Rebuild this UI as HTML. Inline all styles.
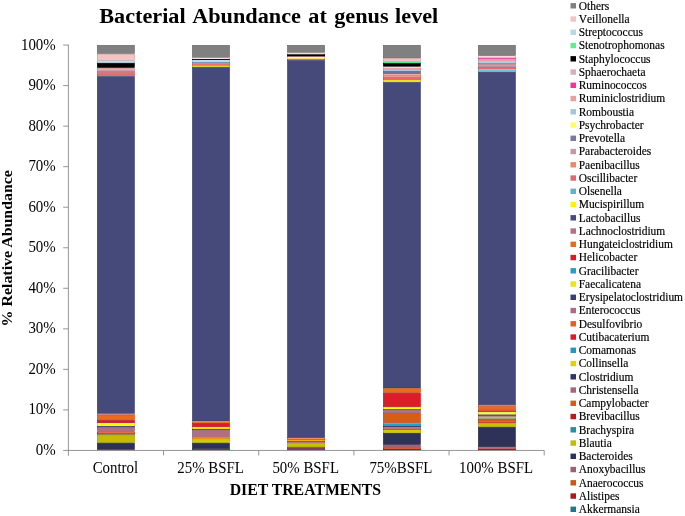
<!DOCTYPE html>
<html><head><meta charset="utf-8"><title>Bacterial Abundance at genus level</title>
<style>
html,body{margin:0;padding:0;background:#fff;}
body{width:685px;height:516px;overflow:hidden;}
svg{display:block;}
text{font-family:"Liberation Serif","Times New Roman",serif;fill:#000;}
.b{font-weight:bold;}
</style></head><body>
<svg width="685" height="516" viewBox="0 0 685 516">
<rect x="0" y="0" width="685" height="516" fill="#ffffff"/>
<rect x="97.30" y="45.30" width="37.10" height="8.20" fill="#808080" stroke="#636363" stroke-width="0.6"/>
<rect x="97.30" y="54.10" width="37.10" height="6.50" fill="#f2c4c4" stroke="#bc9898" stroke-width="0.6"/>
<rect x="97.00" y="60.90" width="37.7" height="2.00" fill="#c0dce8"/>
<rect x="97.00" y="60.90" width="0.6" height="2.00" fill="#95abb4"/>
<rect x="134.10" y="60.90" width="0.6" height="2.00" fill="#95abb4"/>
<rect x="97.30" y="63.20" width="37.10" height="4.40" fill="#000000" stroke="#000000" stroke-width="0.6"/>
<rect x="97.30" y="68.20" width="37.10" height="2.40" fill="#f0a8a8" stroke="#bb8383" stroke-width="0.6"/>
<rect x="97.00" y="70.90" width="37.7" height="1.30" fill="#7c9cc0"/>
<rect x="97.00" y="70.90" width="0.6" height="1.30" fill="#607995"/>
<rect x="134.10" y="70.90" width="0.6" height="1.30" fill="#607995"/>
<rect x="97.30" y="72.50" width="37.10" height="2.50" fill="#f07070" stroke="#bb5757" stroke-width="0.6"/>
<rect x="97.00" y="75.30" width="37.7" height="1.10" fill="#4a80b8"/>
<rect x="97.00" y="75.30" width="0.6" height="1.10" fill="#39638f"/>
<rect x="134.10" y="75.30" width="0.6" height="1.10" fill="#39638f"/>
<rect x="97.30" y="76.70" width="37.10" height="336.80" fill="#464a7a" stroke="#36395f" stroke-width="0.6"/>
<rect x="97.00" y="413.80" width="37.7" height="1.00" fill="#c07890"/>
<rect x="97.00" y="413.80" width="0.6" height="1.00" fill="#955d70"/>
<rect x="134.10" y="413.80" width="0.6" height="1.00" fill="#955d70"/>
<rect x="97.30" y="415.10" width="37.10" height="4.60" fill="#ec6a1c" stroke="#b85215" stroke-width="0.6"/>
<rect x="97.30" y="420.30" width="37.10" height="2.60" fill="#dc1c28" stroke="#ab151f" stroke-width="0.6"/>
<rect x="97.00" y="423.20" width="37.7" height="2.90" fill="#ffff00"/>
<rect x="97.00" y="423.20" width="0.6" height="2.90" fill="#c6c600"/>
<rect x="134.10" y="423.20" width="0.6" height="2.90" fill="#c6c600"/>
<rect x="97.00" y="426.10" width="37.7" height="1.00" fill="#3a3e68"/>
<rect x="97.00" y="426.10" width="0.6" height="1.00" fill="#2d3051"/>
<rect x="134.10" y="426.10" width="0.6" height="1.00" fill="#2d3051"/>
<rect x="97.00" y="427.10" width="37.7" height="0.90" fill="#80648a"/>
<rect x="97.00" y="427.10" width="0.6" height="0.90" fill="#634e6b"/>
<rect x="134.10" y="427.10" width="0.6" height="0.90" fill="#634e6b"/>
<rect x="97.30" y="428.30" width="37.10" height="3.40" fill="#b07080" stroke="#895763" stroke-width="0.6"/>
<rect x="97.00" y="432.00" width="37.7" height="0.80" fill="#e86030"/>
<rect x="97.00" y="432.00" width="0.6" height="0.80" fill="#b44a25"/>
<rect x="134.10" y="432.00" width="0.6" height="0.80" fill="#b44a25"/>
<rect x="97.00" y="432.80" width="37.7" height="0.90" fill="#d02028"/>
<rect x="97.00" y="432.80" width="0.6" height="0.90" fill="#a2181f"/>
<rect x="134.10" y="432.80" width="0.6" height="0.90" fill="#a2181f"/>
<rect x="97.00" y="433.70" width="37.7" height="0.90" fill="#303060"/>
<rect x="97.00" y="433.70" width="0.6" height="0.90" fill="#25254a"/>
<rect x="134.10" y="433.70" width="0.6" height="0.90" fill="#25254a"/>
<rect x="97.30" y="434.90" width="37.10" height="7.70" fill="#c4bc00" stroke="#989200" stroke-width="0.6"/>
<rect x="97.30" y="443.20" width="37.10" height="6.30" fill="#2c3058" stroke="#222544" stroke-width="0.6"/>
<rect x="97.00" y="449.80" width="37.7" height="0.50" fill="#902030"/>
<rect x="97.00" y="449.80" width="0.6" height="0.50" fill="#701825"/>
<rect x="134.10" y="449.80" width="0.6" height="0.50" fill="#701825"/>
<rect x="192.40" y="45.30" width="37.10" height="12.20" fill="#808080" stroke="#636363" stroke-width="0.6"/>
<rect x="192.10" y="57.80" width="37.7" height="1.20" fill="#f8e4e4"/>
<rect x="192.10" y="57.80" width="0.6" height="1.20" fill="#c1b1b1"/>
<rect x="229.20" y="57.80" width="0.6" height="1.20" fill="#c1b1b1"/>
<rect x="192.10" y="59.00" width="37.7" height="1.00" fill="#201010"/>
<rect x="192.10" y="59.00" width="0.6" height="1.00" fill="#180c0c"/>
<rect x="229.20" y="59.00" width="0.6" height="1.00" fill="#180c0c"/>
<rect x="192.10" y="60.00" width="37.7" height="2.10" fill="#b8dcec"/>
<rect x="192.10" y="60.00" width="0.6" height="2.10" fill="#8fabb8"/>
<rect x="229.20" y="60.00" width="0.6" height="2.10" fill="#8fabb8"/>
<rect x="192.10" y="62.10" width="37.7" height="1.00" fill="#6890b8"/>
<rect x="192.10" y="62.10" width="0.6" height="1.00" fill="#51708f"/>
<rect x="229.20" y="62.10" width="0.6" height="1.00" fill="#51708f"/>
<rect x="192.10" y="63.10" width="37.7" height="2.10" fill="#f07070"/>
<rect x="192.10" y="63.10" width="0.6" height="2.10" fill="#bb5757"/>
<rect x="229.20" y="63.10" width="0.6" height="2.10" fill="#bb5757"/>
<rect x="192.10" y="65.20" width="37.7" height="0.80" fill="#b08098"/>
<rect x="192.10" y="65.20" width="0.6" height="0.80" fill="#896376"/>
<rect x="229.20" y="65.20" width="0.6" height="0.80" fill="#896376"/>
<rect x="192.10" y="66.00" width="37.7" height="1.10" fill="#d8d830"/>
<rect x="192.10" y="66.00" width="0.6" height="1.10" fill="#a8a825"/>
<rect x="229.20" y="66.00" width="0.6" height="1.10" fill="#a8a825"/>
<rect x="192.40" y="67.40" width="37.10" height="353.60" fill="#464a7a" stroke="#36395f" stroke-width="0.6"/>
<rect x="192.10" y="421.30" width="37.7" height="1.60" fill="#f07020"/>
<rect x="192.10" y="421.30" width="0.6" height="1.60" fill="#bb5718"/>
<rect x="229.20" y="421.30" width="0.6" height="1.60" fill="#bb5718"/>
<rect x="192.40" y="423.20" width="37.10" height="3.60" fill="#dc1c28" stroke="#ab151f" stroke-width="0.6"/>
<rect x="192.10" y="427.10" width="37.7" height="2.00" fill="#f0e000"/>
<rect x="192.10" y="427.10" width="0.6" height="2.00" fill="#bbae00"/>
<rect x="229.20" y="427.10" width="0.6" height="2.00" fill="#bbae00"/>
<rect x="192.10" y="429.10" width="37.7" height="0.90" fill="#3a3e68"/>
<rect x="192.10" y="429.10" width="0.6" height="0.90" fill="#2d3051"/>
<rect x="229.20" y="429.10" width="0.6" height="0.90" fill="#2d3051"/>
<rect x="192.40" y="430.30" width="37.10" height="7.00" fill="#b07080" stroke="#895763" stroke-width="0.6"/>
<rect x="192.10" y="437.60" width="37.7" height="1.90" fill="#f09010"/>
<rect x="192.10" y="437.60" width="0.6" height="1.90" fill="#bb700c"/>
<rect x="229.20" y="437.60" width="0.6" height="1.90" fill="#bb700c"/>
<rect x="192.40" y="439.80" width="37.10" height="2.80" fill="#d4d000" stroke="#a5a200" stroke-width="0.6"/>
<rect x="192.40" y="443.20" width="37.10" height="5.50" fill="#2c3058" stroke="#222544" stroke-width="0.6"/>
<rect x="192.10" y="449.00" width="37.7" height="1.30" fill="#b02028"/>
<rect x="192.10" y="449.00" width="0.6" height="1.30" fill="#89181f"/>
<rect x="229.20" y="449.00" width="0.6" height="1.30" fill="#89181f"/>
<rect x="287.50" y="45.30" width="37.10" height="7.20" fill="#808080" stroke="#636363" stroke-width="0.6"/>
<rect x="287.20" y="52.80" width="37.7" height="1.50" fill="#f4dcdc"/>
<rect x="287.20" y="52.80" width="0.6" height="1.50" fill="#beabab"/>
<rect x="324.30" y="52.80" width="0.6" height="1.50" fill="#beabab"/>
<rect x="287.20" y="54.30" width="37.7" height="2.00" fill="#000000"/>
<rect x="287.20" y="54.30" width="0.6" height="2.00" fill="#000000"/>
<rect x="324.30" y="54.30" width="0.6" height="2.00" fill="#000000"/>
<rect x="287.20" y="56.30" width="37.7" height="0.60" fill="#702030"/>
<rect x="287.20" y="56.30" width="0.6" height="0.60" fill="#571825"/>
<rect x="324.30" y="56.30" width="0.6" height="0.60" fill="#571825"/>
<rect x="287.20" y="56.90" width="37.7" height="0.80" fill="#f8f0e8"/>
<rect x="287.20" y="56.90" width="0.6" height="0.80" fill="#c1bbb4"/>
<rect x="324.30" y="56.90" width="0.6" height="0.80" fill="#c1bbb4"/>
<rect x="287.20" y="57.70" width="37.7" height="0.60" fill="#e8f0b0"/>
<rect x="287.20" y="57.70" width="0.6" height="0.60" fill="#b4bb89"/>
<rect x="324.30" y="57.70" width="0.6" height="0.60" fill="#b4bb89"/>
<rect x="287.20" y="58.30" width="37.7" height="0.90" fill="#f8d040"/>
<rect x="287.20" y="58.30" width="0.6" height="0.90" fill="#c1a231"/>
<rect x="324.30" y="58.30" width="0.6" height="0.90" fill="#c1a231"/>
<rect x="287.20" y="59.20" width="37.7" height="1.00" fill="#4a78b0"/>
<rect x="287.20" y="59.20" width="0.6" height="1.00" fill="#395d89"/>
<rect x="324.30" y="59.20" width="0.6" height="1.00" fill="#395d89"/>
<rect x="287.50" y="60.50" width="37.10" height="377.20" fill="#464a7a" stroke="#36395f" stroke-width="0.6"/>
<rect x="287.20" y="438.00" width="37.7" height="0.70" fill="#f08050"/>
<rect x="287.20" y="438.00" width="0.6" height="0.70" fill="#bb633e"/>
<rect x="324.30" y="438.00" width="0.6" height="0.70" fill="#bb633e"/>
<rect x="287.20" y="438.70" width="37.7" height="1.30" fill="#f45c08"/>
<rect x="287.20" y="438.70" width="0.6" height="1.30" fill="#be4706"/>
<rect x="324.30" y="438.70" width="0.6" height="1.30" fill="#be4706"/>
<rect x="287.20" y="440.00" width="37.7" height="1.00" fill="#f0b000"/>
<rect x="287.20" y="440.00" width="0.6" height="1.00" fill="#bb8900"/>
<rect x="324.30" y="440.00" width="0.6" height="1.00" fill="#bb8900"/>
<rect x="287.20" y="441.00" width="37.7" height="1.00" fill="#607048"/>
<rect x="287.20" y="441.00" width="0.6" height="1.00" fill="#4a5738"/>
<rect x="324.30" y="441.00" width="0.6" height="1.00" fill="#4a5738"/>
<rect x="287.20" y="442.00" width="37.7" height="0.90" fill="#b06090"/>
<rect x="287.20" y="442.00" width="0.6" height="0.90" fill="#894a70"/>
<rect x="324.30" y="442.00" width="0.6" height="0.90" fill="#894a70"/>
<rect x="287.50" y="443.20" width="37.10" height="3.80" fill="#c8c000" stroke="#9c9500" stroke-width="0.6"/>
<rect x="287.20" y="447.30" width="37.7" height="0.70" fill="#404028"/>
<rect x="287.20" y="447.30" width="0.6" height="0.70" fill="#31311f"/>
<rect x="324.30" y="447.30" width="0.6" height="0.70" fill="#31311f"/>
<rect x="287.20" y="448.00" width="37.7" height="2.30" fill="#7c4060"/>
<rect x="287.20" y="448.00" width="0.6" height="2.30" fill="#60314a"/>
<rect x="324.30" y="448.00" width="0.6" height="2.30" fill="#60314a"/>
<rect x="383.30" y="45.30" width="37.10" height="12.60" fill="#808080" stroke="#636363" stroke-width="0.6"/>
<rect x="383.30" y="58.50" width="37.10" height="3.00" fill="#f4c0c4" stroke="#be9598" stroke-width="0.6"/>
<rect x="383.00" y="61.80" width="37.7" height="1.40" fill="#50e888"/>
<rect x="383.00" y="61.80" width="0.6" height="1.40" fill="#3eb46a"/>
<rect x="420.10" y="61.80" width="0.6" height="1.40" fill="#3eb46a"/>
<rect x="383.30" y="63.50" width="37.10" height="3.00" fill="#000000" stroke="#000000" stroke-width="0.6"/>
<rect x="383.00" y="66.80" width="37.7" height="1.00" fill="#f8e0e0"/>
<rect x="383.00" y="66.80" width="0.6" height="1.00" fill="#c1aeae"/>
<rect x="420.10" y="66.80" width="0.6" height="1.00" fill="#c1aeae"/>
<rect x="383.00" y="67.80" width="37.7" height="2.20" fill="#f0a0a0"/>
<rect x="383.00" y="67.80" width="0.6" height="2.20" fill="#bb7c7c"/>
<rect x="420.10" y="67.80" width="0.6" height="2.20" fill="#bb7c7c"/>
<rect x="383.00" y="70.00" width="37.7" height="1.00" fill="#a8c8e0"/>
<rect x="383.00" y="70.00" width="0.6" height="1.00" fill="#839cae"/>
<rect x="420.10" y="70.00" width="0.6" height="1.00" fill="#839cae"/>
<rect x="383.30" y="71.30" width="37.10" height="2.40" fill="#70749c" stroke="#575a79" stroke-width="0.6"/>
<rect x="383.00" y="74.00" width="37.7" height="0.60" fill="#d8a8a8"/>
<rect x="383.00" y="74.00" width="0.6" height="0.60" fill="#a88383"/>
<rect x="420.10" y="74.00" width="0.6" height="0.60" fill="#a88383"/>
<rect x="383.00" y="74.60" width="37.7" height="2.10" fill="#f08868"/>
<rect x="383.00" y="74.60" width="0.6" height="2.10" fill="#bb6a51"/>
<rect x="420.10" y="74.60" width="0.6" height="2.10" fill="#bb6a51"/>
<rect x="383.00" y="76.70" width="37.7" height="2.30" fill="#e86870"/>
<rect x="383.00" y="76.70" width="0.6" height="2.30" fill="#b45157"/>
<rect x="420.10" y="76.70" width="0.6" height="2.30" fill="#b45157"/>
<rect x="383.00" y="79.00" width="37.7" height="1.00" fill="#50a0e0"/>
<rect x="383.00" y="79.00" width="0.6" height="1.00" fill="#3e7cae"/>
<rect x="420.10" y="79.00" width="0.6" height="1.00" fill="#3e7cae"/>
<rect x="383.00" y="80.00" width="37.7" height="2.10" fill="#e8e020"/>
<rect x="383.00" y="80.00" width="0.6" height="2.10" fill="#b4ae18"/>
<rect x="420.10" y="80.00" width="0.6" height="2.10" fill="#b4ae18"/>
<rect x="383.30" y="82.40" width="37.10" height="305.60" fill="#464a7a" stroke="#36395f" stroke-width="0.6"/>
<rect x="383.30" y="388.60" width="37.10" height="4.00" fill="#ec6a1c" stroke="#b85215" stroke-width="0.6"/>
<rect x="383.30" y="393.20" width="37.10" height="13.50" fill="#dc1c28" stroke="#ab151f" stroke-width="0.6"/>
<rect x="383.00" y="407.00" width="37.7" height="0.60" fill="#60d060"/>
<rect x="383.00" y="407.00" width="0.6" height="0.60" fill="#4aa24a"/>
<rect x="420.10" y="407.00" width="0.6" height="0.60" fill="#4aa24a"/>
<rect x="383.00" y="407.60" width="37.7" height="1.40" fill="#ffff00"/>
<rect x="383.00" y="407.60" width="0.6" height="1.40" fill="#c6c600"/>
<rect x="420.10" y="407.60" width="0.6" height="1.40" fill="#c6c600"/>
<rect x="383.00" y="409.00" width="37.7" height="0.80" fill="#3a3e68"/>
<rect x="383.00" y="409.00" width="0.6" height="0.80" fill="#2d3051"/>
<rect x="420.10" y="409.00" width="0.6" height="0.80" fill="#2d3051"/>
<rect x="383.30" y="410.10" width="37.10" height="2.60" fill="#b07088" stroke="#89576a" stroke-width="0.6"/>
<rect x="383.30" y="413.30" width="37.10" height="9.30" fill="#d85c16" stroke="#a84711" stroke-width="0.6"/>
<rect x="383.00" y="422.90" width="37.7" height="0.60" fill="#e04018"/>
<rect x="383.00" y="422.90" width="0.6" height="0.60" fill="#ae3112"/>
<rect x="420.10" y="422.90" width="0.6" height="0.60" fill="#ae3112"/>
<rect x="383.00" y="423.50" width="37.7" height="2.60" fill="#20a4c8"/>
<rect x="383.00" y="423.50" width="0.6" height="2.60" fill="#187f9c"/>
<rect x="420.10" y="423.50" width="0.6" height="2.60" fill="#187f9c"/>
<rect x="383.00" y="426.10" width="37.7" height="1.40" fill="#2c3460"/>
<rect x="383.00" y="426.10" width="0.6" height="1.40" fill="#22284a"/>
<rect x="420.10" y="426.10" width="0.6" height="1.40" fill="#22284a"/>
<rect x="383.00" y="427.50" width="37.7" height="1.40" fill="#c86070"/>
<rect x="383.00" y="427.50" width="0.6" height="1.40" fill="#9c4a57"/>
<rect x="420.10" y="427.50" width="0.6" height="1.40" fill="#9c4a57"/>
<rect x="383.00" y="428.90" width="37.7" height="1.10" fill="#2098b8"/>
<rect x="383.00" y="428.90" width="0.6" height="1.10" fill="#18768f"/>
<rect x="420.10" y="428.90" width="0.6" height="1.10" fill="#18768f"/>
<rect x="383.00" y="430.00" width="37.7" height="2.90" fill="#d4c800"/>
<rect x="383.00" y="430.00" width="0.6" height="2.90" fill="#a59c00"/>
<rect x="420.10" y="430.00" width="0.6" height="2.90" fill="#a59c00"/>
<rect x="383.30" y="433.20" width="37.10" height="11.40" fill="#2e3258" stroke="#232744" stroke-width="0.6"/>
<rect x="383.30" y="445.20" width="37.10" height="2.50" fill="#a86070" stroke="#834a57" stroke-width="0.6"/>
<rect x="383.00" y="448.00" width="37.7" height="0.80" fill="#d84820"/>
<rect x="383.00" y="448.00" width="0.6" height="0.80" fill="#a83818"/>
<rect x="420.10" y="448.00" width="0.6" height="0.80" fill="#a83818"/>
<rect x="383.00" y="448.80" width="37.7" height="1.50" fill="#b01018"/>
<rect x="383.00" y="448.80" width="0.6" height="1.50" fill="#890c12"/>
<rect x="420.10" y="448.80" width="0.6" height="1.50" fill="#890c12"/>
<rect x="478.30" y="45.30" width="37.10" height="10.30" fill="#808080" stroke="#636363" stroke-width="0.6"/>
<rect x="478.00" y="55.90" width="37.7" height="1.80" fill="#f8d8d8"/>
<rect x="478.00" y="55.90" width="0.6" height="1.80" fill="#c1a8a8"/>
<rect x="515.10" y="55.90" width="0.6" height="1.80" fill="#c1a8a8"/>
<rect x="478.00" y="57.70" width="37.7" height="1.80" fill="#e850a0"/>
<rect x="478.00" y="57.70" width="0.6" height="1.80" fill="#b43e7c"/>
<rect x="515.10" y="57.70" width="0.6" height="1.80" fill="#b43e7c"/>
<rect x="478.00" y="59.50" width="37.7" height="1.40" fill="#f09098"/>
<rect x="478.00" y="59.50" width="0.6" height="1.40" fill="#bb7076"/>
<rect x="515.10" y="59.50" width="0.6" height="1.40" fill="#bb7076"/>
<rect x="478.00" y="60.90" width="37.7" height="2.20" fill="#a8d0e4"/>
<rect x="478.00" y="60.90" width="0.6" height="2.20" fill="#83a2b1"/>
<rect x="515.10" y="60.90" width="0.6" height="2.20" fill="#83a2b1"/>
<rect x="478.00" y="63.10" width="37.7" height="0.80" fill="#7080a8"/>
<rect x="478.00" y="63.10" width="0.6" height="0.80" fill="#576383"/>
<rect x="515.10" y="63.10" width="0.6" height="0.80" fill="#576383"/>
<rect x="478.30" y="64.20" width="37.10" height="2.50" fill="#d09aa8" stroke="#a27883" stroke-width="0.6"/>
<rect x="478.00" y="67.00" width="37.7" height="2.30" fill="#e86868"/>
<rect x="478.00" y="67.00" width="0.6" height="2.30" fill="#b45151"/>
<rect x="515.10" y="67.00" width="0.6" height="2.30" fill="#b45151"/>
<rect x="478.00" y="69.30" width="37.7" height="2.60" fill="#70c0e0"/>
<rect x="478.00" y="69.30" width="0.6" height="2.60" fill="#5795ae"/>
<rect x="515.10" y="69.30" width="0.6" height="2.60" fill="#5795ae"/>
<rect x="478.30" y="72.20" width="37.10" height="332.50" fill="#464a7a" stroke="#36395f" stroke-width="0.6"/>
<rect x="478.00" y="405.00" width="37.7" height="1.10" fill="#c88098"/>
<rect x="478.00" y="405.00" width="0.6" height="1.10" fill="#9c6376"/>
<rect x="515.10" y="405.00" width="0.6" height="1.10" fill="#9c6376"/>
<rect x="478.30" y="406.40" width="37.10" height="3.70" fill="#ec6a1c" stroke="#b85215" stroke-width="0.6"/>
<rect x="478.00" y="410.40" width="37.7" height="1.50" fill="#dc1020"/>
<rect x="478.00" y="410.40" width="0.6" height="1.50" fill="#ab0c18"/>
<rect x="515.10" y="410.40" width="0.6" height="1.50" fill="#ab0c18"/>
<rect x="478.00" y="411.90" width="37.7" height="0.60" fill="#80d840"/>
<rect x="478.00" y="411.90" width="0.6" height="0.60" fill="#63a831"/>
<rect x="515.10" y="411.90" width="0.6" height="0.60" fill="#63a831"/>
<rect x="478.00" y="412.50" width="37.7" height="1.80" fill="#ffff00"/>
<rect x="478.00" y="412.50" width="0.6" height="1.80" fill="#c6c600"/>
<rect x="515.10" y="412.50" width="0.6" height="1.80" fill="#c6c600"/>
<rect x="478.00" y="414.30" width="37.7" height="0.50" fill="#787020"/>
<rect x="478.00" y="414.30" width="0.6" height="0.50" fill="#5d5718"/>
<rect x="515.10" y="414.30" width="0.6" height="0.50" fill="#5d5718"/>
<rect x="478.00" y="414.80" width="37.7" height="1.90" fill="#8a3a76"/>
<rect x="478.00" y="414.80" width="0.6" height="1.90" fill="#6b2d5c"/>
<rect x="515.10" y="414.80" width="0.6" height="1.90" fill="#6b2d5c"/>
<rect x="478.00" y="416.70" width="37.7" height="1.90" fill="#a8d030"/>
<rect x="478.00" y="416.70" width="0.6" height="1.90" fill="#83a225"/>
<rect x="515.10" y="416.70" width="0.6" height="1.90" fill="#83a225"/>
<rect x="478.00" y="418.60" width="37.7" height="1.20" fill="#783a78"/>
<rect x="478.00" y="418.60" width="0.6" height="1.20" fill="#5d2d5d"/>
<rect x="515.10" y="418.60" width="0.6" height="1.20" fill="#5d2d5d"/>
<rect x="478.00" y="419.80" width="37.7" height="2.00" fill="#d85a18"/>
<rect x="478.00" y="419.80" width="0.6" height="2.00" fill="#a84612"/>
<rect x="515.10" y="419.80" width="0.6" height="2.00" fill="#a84612"/>
<rect x="478.00" y="421.80" width="37.7" height="1.10" fill="#d02820"/>
<rect x="478.00" y="421.80" width="0.6" height="1.10" fill="#a21f18"/>
<rect x="515.10" y="421.80" width="0.6" height="1.10" fill="#a21f18"/>
<rect x="478.30" y="423.20" width="37.10" height="3.50" fill="#c8c000" stroke="#9c9500" stroke-width="0.6"/>
<rect x="478.30" y="427.30" width="37.10" height="19.50" fill="#2e3258" stroke="#232744" stroke-width="0.6"/>
<rect x="478.00" y="447.10" width="37.7" height="1.50" fill="#b06070"/>
<rect x="478.00" y="447.10" width="0.6" height="1.50" fill="#894a57"/>
<rect x="515.10" y="447.10" width="0.6" height="1.50" fill="#894a57"/>
<rect x="478.00" y="448.60" width="37.7" height="1.70" fill="#b01018"/>
<rect x="478.00" y="448.60" width="0.6" height="1.70" fill="#890c12"/>
<rect x="515.10" y="448.60" width="0.6" height="1.70" fill="#890c12"/>
<g stroke="#8a8a8a" stroke-width="0.9" fill="none">
<line x1="68.4" y1="44.65" x2="68.4" y2="455.84999999999997"/>
<line x1="63.2" y1="450.45" x2="544.2" y2="450.45"/>
<line x1="63.2" y1="45.05" x2="68.4" y2="45.05"/>
<line x1="63.2" y1="85.59" x2="68.4" y2="85.59"/>
<line x1="63.2" y1="126.13" x2="68.4" y2="126.13"/>
<line x1="63.2" y1="166.67" x2="68.4" y2="166.67"/>
<line x1="63.2" y1="207.21" x2="68.4" y2="207.21"/>
<line x1="63.2" y1="247.75" x2="68.4" y2="247.75"/>
<line x1="63.2" y1="288.29" x2="68.4" y2="288.29"/>
<line x1="63.2" y1="328.83" x2="68.4" y2="328.83"/>
<line x1="63.2" y1="369.37" x2="68.4" y2="369.37"/>
<line x1="63.2" y1="409.91" x2="68.4" y2="409.91"/>
<line x1="163.56" y1="450.45" x2="163.56" y2="455.45"/>
<line x1="258.72" y1="450.45" x2="258.72" y2="455.45"/>
<line x1="353.88" y1="450.45" x2="353.88" y2="455.45"/>
<line x1="449.04" y1="450.45" x2="449.04" y2="455.45"/>
<line x1="544.20" y1="450.45" x2="544.20" y2="455.45"/>
</g>
<text transform="translate(55.7,49.55) scale(0.91,1)" font-size="16.4" text-anchor="end">100%</text>
<text transform="translate(55.7,90.09) scale(0.91,1)" font-size="16.4" text-anchor="end">90%</text>
<text transform="translate(55.7,130.63) scale(0.91,1)" font-size="16.4" text-anchor="end">80%</text>
<text transform="translate(55.7,171.17) scale(0.91,1)" font-size="16.4" text-anchor="end">70%</text>
<text transform="translate(55.7,211.71) scale(0.91,1)" font-size="16.4" text-anchor="end">60%</text>
<text transform="translate(55.7,252.25) scale(0.91,1)" font-size="16.4" text-anchor="end">50%</text>
<text transform="translate(55.7,292.79) scale(0.91,1)" font-size="16.4" text-anchor="end">40%</text>
<text transform="translate(55.7,333.33) scale(0.91,1)" font-size="16.4" text-anchor="end">30%</text>
<text transform="translate(55.7,373.87) scale(0.91,1)" font-size="16.4" text-anchor="end">20%</text>
<text transform="translate(55.7,414.41) scale(0.91,1)" font-size="16.4" text-anchor="end">10%</text>
<text transform="translate(55.7,454.95) scale(0.91,1)" font-size="16.4" text-anchor="end">0%</text>
<text transform="translate(115.38,472.8) scale(0.908,1)" font-size="16.4" text-anchor="middle">Control</text>
<text transform="translate(210.54,472.8) scale(0.908,1)" font-size="16.4" text-anchor="middle">25% BSFL</text>
<text transform="translate(305.70,472.8) scale(0.908,1)" font-size="16.4" text-anchor="middle">50% BSFL</text>
<text transform="translate(400.86,472.8) scale(0.908,1)" font-size="16.4" text-anchor="middle">75%BSFL</text>
<text transform="translate(496.02,472.8) scale(0.908,1)" font-size="16.4" text-anchor="middle">100% BSFL</text>
<text class="b" transform="translate(0,23.4) scale(1.025,1)" font-size="21.7"><tspan x="96.78">Bacterial </tspan><tspan x="187.51">Abundance </tspan><tspan x="300.78">at </tspan><tspan x="326.05">genus </tspan><tspan x="385.46">level</tspan></text>
<text class="b" x="305.4" y="495" font-size="15.8" text-anchor="middle">DIET TREATMENTS</text>
<text class="b" transform="translate(12.2,248.25) rotate(-90) scale(1.04,1)" font-size="15.3" text-anchor="middle">% Relative Abundance</text>
<rect x="570.5" y="3.10" width="5.5" height="5.4" fill="#808080"/>
<text transform="translate(578.7,9.65) scale(0.91,1)" font-size="12.6" stroke="#000" stroke-width="0.18" style="font-kerning:none">Others</text>
<rect x="570.5" y="16.35" width="5.5" height="5.4" fill="#f2c4c4"/>
<text transform="translate(578.7,22.90) scale(0.91,1)" font-size="12.6" stroke="#000" stroke-width="0.18" style="font-kerning:none">Veillonella</text>
<rect x="570.5" y="29.60" width="5.5" height="5.4" fill="#b8d8e8"/>
<text transform="translate(578.7,36.15) scale(0.91,1)" font-size="12.6" stroke="#000" stroke-width="0.18" style="font-kerning:none">Streptococcus</text>
<rect x="570.5" y="42.85" width="5.5" height="5.4" fill="#5cf08c"/>
<text transform="translate(578.7,49.40) scale(0.91,1)" font-size="12.6" stroke="#000" stroke-width="0.18" style="font-kerning:none">Stenotrophomonas</text>
<rect x="570.5" y="56.10" width="5.5" height="5.4" fill="#000000"/>
<text transform="translate(578.7,62.65) scale(0.91,1)" font-size="12.6" stroke="#000" stroke-width="0.18" style="font-kerning:none">Staphylococcus</text>
<rect x="570.5" y="69.35" width="5.5" height="5.4" fill="#d8b0bc"/>
<text transform="translate(578.7,75.90) scale(0.91,1)" font-size="12.6" stroke="#000" stroke-width="0.18" style="font-kerning:none">Sphaerochaeta</text>
<rect x="570.5" y="82.60" width="5.5" height="5.4" fill="#ff2d96"/>
<text transform="translate(578.7,89.15) scale(0.91,1)" font-size="12.6" stroke="#000" stroke-width="0.18" style="font-kerning:none">Ruminococcos</text>
<rect x="570.5" y="95.85" width="5.5" height="5.4" fill="#e8a0a0"/>
<text transform="translate(578.7,102.40) scale(0.91,1)" font-size="12.6" stroke="#000" stroke-width="0.18" style="font-kerning:none">Ruminiclostridium</text>
<rect x="570.5" y="109.10" width="5.5" height="5.4" fill="#a0c8dc"/>
<text transform="translate(578.7,115.65) scale(0.91,1)" font-size="12.6" stroke="#000" stroke-width="0.18" style="font-kerning:none">Romboustia</text>
<rect x="570.5" y="122.35" width="5.5" height="5.4" fill="#ffff60"/>
<text transform="translate(578.7,128.90) scale(0.91,1)" font-size="12.6" stroke="#000" stroke-width="0.18" style="font-kerning:none">Psychrobacter</text>
<rect x="570.5" y="135.60" width="5.5" height="5.4" fill="#7878a0"/>
<text transform="translate(578.7,142.15) scale(0.91,1)" font-size="12.6" stroke="#000" stroke-width="0.18" style="font-kerning:none">Prevotella</text>
<rect x="570.5" y="148.85" width="5.5" height="5.4" fill="#c898a8"/>
<text transform="translate(578.7,155.40) scale(0.91,1)" font-size="12.6" stroke="#000" stroke-width="0.18" style="font-kerning:none">Parabacteroides</text>
<rect x="570.5" y="162.10" width="5.5" height="5.4" fill="#f08868"/>
<text transform="translate(578.7,168.65) scale(0.91,1)" font-size="12.6" stroke="#000" stroke-width="0.18" style="font-kerning:none">Paenibacillus</text>
<rect x="570.5" y="175.35" width="5.5" height="5.4" fill="#e06870"/>
<text transform="translate(578.7,181.90) scale(0.91,1)" font-size="12.6" stroke="#000" stroke-width="0.18" style="font-kerning:none">Oscillibacter</text>
<rect x="570.5" y="188.60" width="5.5" height="5.4" fill="#64b0cc"/>
<text transform="translate(578.7,195.15) scale(0.91,1)" font-size="12.6" stroke="#000" stroke-width="0.18" style="font-kerning:none">Olsenella</text>
<rect x="570.5" y="201.85" width="5.5" height="5.4" fill="#fff200"/>
<text transform="translate(578.7,208.40) scale(0.91,1)" font-size="12.6" stroke="#000" stroke-width="0.18" style="font-kerning:none">Mucispirillum</text>
<rect x="570.5" y="215.10" width="5.5" height="5.4" fill="#464a7a"/>
<text transform="translate(578.7,221.65) scale(0.91,1)" font-size="12.6" stroke="#000" stroke-width="0.18" style="font-kerning:none">Lactobacillus</text>
<rect x="570.5" y="228.35" width="5.5" height="5.4" fill="#b87088"/>
<text transform="translate(578.7,234.90) scale(0.91,1)" font-size="12.6" stroke="#000" stroke-width="0.18" style="font-kerning:none">Lachnoclostridium</text>
<rect x="570.5" y="241.60" width="5.5" height="5.4" fill="#ee6a18"/>
<text transform="translate(578.7,248.15) scale(0.91,1)" font-size="12.6" stroke="#000" stroke-width="0.18" style="font-kerning:none">Hungateiclostridium</text>
<rect x="570.5" y="254.85" width="5.5" height="5.4" fill="#dc1828"/>
<text transform="translate(578.7,261.40) scale(0.91,1)" font-size="12.6" stroke="#000" stroke-width="0.18" style="font-kerning:none">Helicobacter</text>
<rect x="570.5" y="268.10" width="5.5" height="5.4" fill="#26a0c2"/>
<text transform="translate(578.7,274.65) scale(0.91,1)" font-size="12.6" stroke="#000" stroke-width="0.18" style="font-kerning:none">Gracilibacter</text>
<rect x="570.5" y="281.35" width="5.5" height="5.4" fill="#ece414"/>
<text transform="translate(578.7,287.90) scale(0.91,1)" font-size="12.6" stroke="#000" stroke-width="0.18" style="font-kerning:none">Faecalicatena</text>
<rect x="570.5" y="294.60" width="5.5" height="5.4" fill="#3a3e70"/>
<text transform="translate(578.7,301.15) scale(0.91,1)" font-size="12.6" stroke="#000" stroke-width="0.18" style="font-kerning:none">Erysipelatoclostridium</text>
<rect x="570.5" y="307.85" width="5.5" height="5.4" fill="#b06a88"/>
<text transform="translate(578.7,314.40) scale(0.91,1)" font-size="12.6" stroke="#000" stroke-width="0.18" style="font-kerning:none">Enterococcus</text>
<rect x="570.5" y="321.10" width="5.5" height="5.4" fill="#e86020"/>
<text transform="translate(578.7,327.65) scale(0.91,1)" font-size="12.6" stroke="#000" stroke-width="0.18" style="font-kerning:none">Desulfovibrio</text>
<rect x="570.5" y="334.35" width="5.5" height="5.4" fill="#e01828"/>
<text transform="translate(578.7,340.90) scale(0.91,1)" font-size="12.6" stroke="#000" stroke-width="0.18" style="font-kerning:none">Cutibacaterium</text>
<rect x="570.5" y="347.60" width="5.5" height="5.4" fill="#2098c0"/>
<text transform="translate(578.7,354.15) scale(0.91,1)" font-size="12.6" stroke="#000" stroke-width="0.18" style="font-kerning:none">Comamonas</text>
<rect x="570.5" y="360.85" width="5.5" height="5.4" fill="#d8d800"/>
<text transform="translate(578.7,367.40) scale(0.91,1)" font-size="12.6" stroke="#000" stroke-width="0.18" style="font-kerning:none">Collinsella</text>
<rect x="570.5" y="374.10" width="5.5" height="5.4" fill="#303460"/>
<text transform="translate(578.7,380.65) scale(0.91,1)" font-size="12.6" stroke="#000" stroke-width="0.18" style="font-kerning:none">Clostridium</text>
<rect x="570.5" y="387.35" width="5.5" height="5.4" fill="#aa6480"/>
<text transform="translate(578.7,393.90) scale(0.91,1)" font-size="12.6" stroke="#000" stroke-width="0.18" style="font-kerning:none">Christensella</text>
<rect x="570.5" y="400.60" width="5.5" height="5.4" fill="#da5a18"/>
<text transform="translate(578.7,407.15) scale(0.91,1)" font-size="12.6" stroke="#000" stroke-width="0.18" style="font-kerning:none">Campylobacter</text>
<rect x="570.5" y="413.85" width="5.5" height="5.4" fill="#c21622"/>
<text transform="translate(578.7,420.40) scale(0.91,1)" font-size="12.6" stroke="#000" stroke-width="0.18" style="font-kerning:none">Brevibacillus</text>
<rect x="570.5" y="427.10" width="5.5" height="5.4" fill="#2490aa"/>
<text transform="translate(578.7,433.65) scale(0.91,1)" font-size="12.6" stroke="#000" stroke-width="0.18" style="font-kerning:none">Brachyspira</text>
<rect x="570.5" y="440.35" width="5.5" height="5.4" fill="#c4bc00"/>
<text transform="translate(578.7,446.90) scale(0.91,1)" font-size="12.6" stroke="#000" stroke-width="0.18" style="font-kerning:none">Blautia</text>
<rect x="570.5" y="453.60" width="5.5" height="5.4" fill="#2e305e"/>
<text transform="translate(578.7,460.15) scale(0.91,1)" font-size="12.6" stroke="#000" stroke-width="0.18" style="font-kerning:none">Bacteroides</text>
<rect x="570.5" y="466.85" width="5.5" height="5.4" fill="#a05e76"/>
<text transform="translate(578.7,473.40) scale(0.91,1)" font-size="12.6" stroke="#000" stroke-width="0.18" style="font-kerning:none">Anoxybacillus</text>
<rect x="570.5" y="480.10" width="5.5" height="5.4" fill="#cc5816"/>
<text transform="translate(578.7,486.65) scale(0.91,1)" font-size="12.6" stroke="#000" stroke-width="0.18" style="font-kerning:none">Anaerococcus</text>
<rect x="570.5" y="493.35" width="5.5" height="5.4" fill="#b41420"/>
<text transform="translate(578.7,499.90) scale(0.91,1)" font-size="12.6" stroke="#000" stroke-width="0.18" style="font-kerning:none">Alistipes</text>
<rect x="570.5" y="506.60" width="5.5" height="5.4" fill="#20788c"/>
<text transform="translate(578.7,513.15) scale(0.91,1)" font-size="12.6" stroke="#000" stroke-width="0.18" style="font-kerning:none">Akkermansia</text>
</svg></body></html>
